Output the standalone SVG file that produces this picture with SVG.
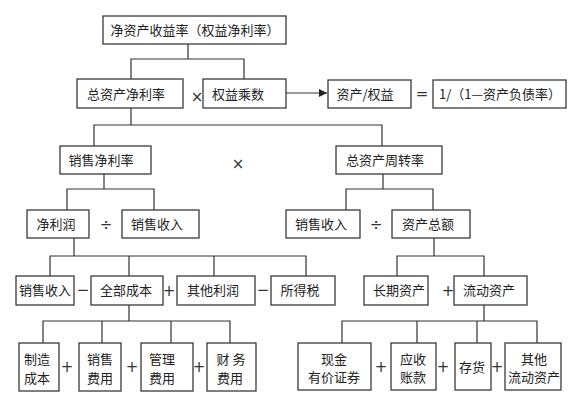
<svg xmlns="http://www.w3.org/2000/svg" width="577" height="400" viewBox="0 0 577 400">
<style>
.box{fill:#fff;stroke:#3a3a3a;stroke-width:1.3}
.t{font-family:"Noto Sans CJK SC","Noto Sans",sans-serif;font-size:13px;fill:#222;text-anchor:middle}
.op{font-family:"DejaVu Sans","Noto Sans",sans-serif;font-size:15px;fill:#333;text-anchor:middle}
.ln{fill:none;stroke:#333;stroke-width:1.2}
</style>
<defs>
<marker id="arr" viewBox="0 0 10 10" refX="10" refY="5" markerWidth="8" markerHeight="8" markerUnits="userSpaceOnUse" orient="auto">
<path d="M0,0 L10,5 L0,10 z" fill="#222"/>
</marker>
</defs>
<rect width="577" height="400" fill="#fff"/>
<g id="connectors">
<path class="ln" d="M188,44 V59 M131,79 V59 H244 V79"/>
<path class="ln" d="M286,93 H327" marker-end="url(#arr)"/>
<path class="ln" d="M131,108 V125 M94,146 V125 H382 V146"/>
<path class="ln" d="M104,174 V189 M67,210 V189 H154 V210"/>
<path class="ln" d="M383,174 V189 M346,210 V189 H433 V210"/>
<path class="ln" d="M74,238 V256 M50,276 V256 H306 V276 M129,256 V276 M214,256 V276"/>
<path class="ln" d="M434,238 V256 M397,276 V256 H484 V276"/>
<path class="ln" d="M129,305 V321 M43,343 V321 H230 V343 M102,321 V343 M171,321 V343"/>
<path class="ln" d="M484,305 V321 M342,343 V321 H537 V343 M417,321 V343 M477,321 V343"/>
</g>
<g id="n-roe"><rect class="box" x="103" y="16" width="183" height="28"/><text class="t" x="195" y="34.5">净资产收益率（权益净利率）</text></g>
<g id="n-roa"><rect class="box" x="77" y="79" width="106" height="29"/><text class="t" x="126" y="98.5">总资产净利率</text></g>
<g id="n-em"><rect class="box" x="203" y="79" width="83" height="29"/><text class="t" x="238" y="98.5">权益乘数</text></g>
<g id="n-ae"><rect class="box" x="328" y="80" width="83" height="28"/><text class="t" x="365" y="98.5">资产/权益</text></g>
<g id="n-dr"><rect class="box" x="433" y="80" width="133" height="28"/><text class="t" x="500" y="98.5">1/（1—资产负债率）</text></g>
<g id="n-npm"><rect class="box" x="60" y="146" width="91" height="28"/><text class="t" x="101" y="164.5">销售净利率</text></g>
<g id="n-tat"><rect class="box" x="336" y="146" width="106" height="28"/><text class="t" x="385" y="164.5">总资产周转率</text></g>
<g id="n-np"><rect class="box" x="27" y="210" width="62" height="28"/><text class="t" x="56" y="228.5">净利润</text></g>
<g id="n-rev1"><rect class="box" x="122" y="210" width="77" height="28"/><text class="t" x="157" y="228.5">销售收入</text></g>
<g id="n-rev2"><rect class="box" x="286" y="210" width="74" height="28"/><text class="t" x="321" y="228.5">销售收入</text></g>
<g id="n-ta"><rect class="box" x="392" y="210" width="78" height="28"/><text class="t" x="428" y="228.5">资产总额</text></g>
<g id="n-rev3"><rect class="box" x="16" y="276" width="58" height="29"/><text class="t" x="45" y="295">销售收入</text></g>
<g id="n-tc"><rect class="box" x="91" y="276" width="72" height="29"/><text class="t" x="126" y="295">全部成本</text></g>
<g id="n-op"><rect class="box" x="177" y="276" width="78" height="29"/><text class="t" x="213" y="295">其他利润</text></g>
<g id="n-tax"><rect class="box" x="271" y="276" width="64" height="29"/><text class="t" x="300" y="295">所得税</text></g>
<g id="n-lta"><rect class="box" x="364" y="276" width="64" height="29"/><text class="t" x="399" y="295">长期资产</text></g>
<g id="n-ca"><rect class="box" x="454" y="276" width="73" height="29"/><text class="t" x="489" y="295">流动资产</text></g>
<g id="n-mfg"><rect class="box" x="19" y="343" width="40" height="48"/><text class="t" x="37" y="364">制造</text><text class="t" x="37" y="383">成本</text></g>
<g id="n-sell"><rect class="box" x="79" y="343" width="42" height="48"/><text class="t" x="100" y="364">销售</text><text class="t" x="100" y="383">费用</text></g>
<g id="n-adm"><rect class="box" x="141" y="343" width="52" height="48"/><text class="t" x="162" y="364">管理</text><text class="t" x="162" y="383">费用</text></g>
<g id="n-fin"><rect class="box" x="207" y="343" width="49" height="48"/><text class="t" x="231" y="364" style="white-space:pre">财 务</text><text class="t" x="230" y="383">费用</text></g>
<g id="n-cash"><rect class="box" x="298" y="343" width="73" height="47"/><text class="t" x="334" y="364">现金</text><text class="t" x="334" y="382">有价证券</text></g>
<g id="n-ar"><rect class="box" x="391" y="343" width="45" height="47"/><text class="t" x="413" y="364">应收</text><text class="t" x="413" y="382">账款</text></g>
<g id="n-inv"><rect class="box" x="455" y="343" width="36" height="47"/><text class="t" x="472" y="372">存货</text></g>
<g id="n-oca"><rect class="box" x="505" y="343" width="56" height="47"/><text class="t" x="534" y="364">其他</text><text class="t" x="534" y="382">流动资产</text></g>
<g id="operators">
<text class="op" x="197" y="102">×</text>
<text class="op" x="422" y="99">=</text>
<text class="op" x="238" y="169">×</text>
<text class="op" x="106" y="230">÷</text>
<text class="op" x="376" y="230">÷</text>
<text class="op" x="83" y="295">−</text>
<text class="op" x="169" y="296">+</text>
<text class="op" x="263" y="295">−</text>
<text class="op" x="448" y="296">+</text>
<text class="op" x="67" y="372">+</text>
<text class="op" x="132" y="372">+</text>
<text class="op" x="199" y="372">+</text>
<text class="op" x="381" y="372">+</text>
<text class="op" x="443" y="372">+</text>
<text class="op" x="497" y="372">+</text>
</g>
</svg>
